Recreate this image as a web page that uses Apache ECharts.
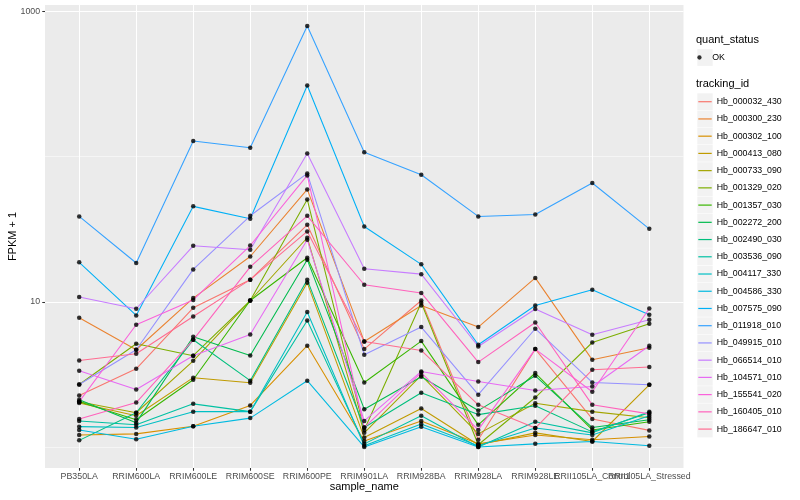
<!DOCTYPE html>
<html><head><meta charset="utf-8">
<script src="https://cdn.jsdelivr.net/npm/echarts@6/dist/echarts.min.js"></script>
<style>html,body{margin:0;padding:0;background:#fff}#c{width:800px;height:500px}</style>
</head><body><div id="c"></div><script>
const categories = ['PB350LA','RRIM600LA','RRIM600LE','RRIM600SE','RRIM600PE','RRIM901LA','RRIM928BA','RRIM928LA','RRIM928LE','RRII105LA_Control','RRII105LA_Stressed'];
const trackingIds = ['Hb_000032_430','Hb_000300_230','Hb_000302_100','Hb_000413_080','Hb_000733_090','Hb_001329_020','Hb_001357_030','Hb_002272_200','Hb_002490_030','Hb_003536_090','Hb_004117_330','Hb_004586_330','Hb_007575_090','Hb_011918_010','Hb_049915_010','Hb_066514_010','Hb_104571_010','Hb_155541_020','Hb_160405_010','Hb_186647_010'];
const palette = ['#F8766D','#EA8331','#D89000','#C09B00','#A3A500','#7CAE00','#39B600','#00BB4E','#00BF7D','#00C1A3','#00BFC4','#00BAE0','#00B0F6','#35A2FF','#9590FF','#C77CFF','#E76BF3','#FA62DB','#FF62BC','#FF6C91'];

// FPKM + 1 per sample, in category order
const hb_000032_430 = [2.26, 3.45, 9.09, 14.2, 33.9, 4.72, 10.2, 1.12, 4.72, 1.56, 1.30];
const hb_000300_230 = [7.76, 4.67, 10.6, 20.5, 59.4, 5.33, 9.43, 6.69, 14.6, 3.98, 4.82];
const hb_000302_100 = [1.21, 1.23, 1.39, 1.93, 4.98, 1.10, 1.51, 1.05, 1.21, 1.12, 1.18];
const hb_000413_080 = [2.01, 1.64, 3.00, 2.77, 13.5, 1.16, 1.84, 1.035, 1.25, 1.09, 2.68];
const hb_000733_090 = [2.05, 1.72, 3.92, 10.2, 27.6, 1.25, 3.11, 1.23, 2.00, 1.75, 1.59];
const hb_001329_020 = [2.69, 5.14, 4.25, 10.2, 50.7, 1.31, 9.84, 1.035, 2.19, 5.24, 7.05];
const hb_001357_030 = [2.05, 1.54, 2.90, 10.2, 20.1, 2.78, 5.36, 1.42, 3.23, 1.31, 1.49];
const hb_002272_200 = [2.11, 1.47, 5.74, 4.27, 19.5, 1.82, 3.04, 1.78, 3.09, 1.36, 1.54];
const hb_002490_030 = [1.11, 1.72, 5.47, 2.86, 14.2, 1.36, 2.36, 1.67, 1.92, 1.27, 1.72];
const hb_003536_090 = [1.51, 1.42, 1.98, 1.75, 7.43, 1.05, 1.64, 1.00, 1.49, 1.25, 1.75];
const hb_004117_330 = [1.38, 1.36, 1.75, 1.75, 8.49, 1.02, 1.44, 1.02, 1.35, 1.21, 1.64];
const hb_004586_330 = [1.31, 1.13, 1.39, 1.58, 2.86, 1.00, 1.38, 1.00, 1.05, 1.09, 1.02];
const hb_007575_090 = [18.7, 8.05, 45.4, 37.3, 309, 33.0, 18.1, 5.06, 9.43, 12.1, 8.14];
const hb_011918_010 = [38.7, 18.5, 128, 115, 793, 107, 75.0, 38.7, 39.9, 65.8, 31.8];
const hb_049915_010 = [2.69, 4.67, 16.7, 39.1, 76.6, 4.32, 6.69, 2.29, 6.52, 2.78, 2.68];
const hb_066514_010 = [10.8, 8.95, 24.3, 22.8, 105, 16.9, 15.5, 4.92, 8.91, 5.93, 7.52];
const hb_104571_010 = [3.35, 2.49, 4.25, 5.95, 26.7, 1.51, 3.31, 2.82, 2.45, 2.61, 4.98];
const hb_155541_020 = [2.05, 6.94, 10.3, 24.4, 74.2, 1.36, 3.25, 1.31, 4.72, 2.40, 8.99];
const hb_160405_010 = [1.56, 2.02, 5.47, 17.4, 39.1, 13.1, 11.5, 3.84, 7.20, 1.95, 1.69];
const hb_186647_010 = [3.94, 4.38, 7.92, 14.2, 30.5, 5.33, 4.62, 1.95, 1.35, 3.40, 3.55];

const yTickValues = [10, 1000];
const yMinorValues = [1, 100];
const xTickValues = categories.map((_, i) => i);
const xLabelsEven = xTickValues.filter(i => i % 2 === 0);
const xLabelsOdd = xTickValues.filter(i => i % 2 === 1);

const seriesValues = [hb_000032_430, hb_000300_230, hb_000302_100, hb_000413_080, hb_000733_090, hb_001329_020, hb_001357_030, hb_002272_200, hb_002490_030, hb_003536_090, hb_004117_330, hb_004586_330, hb_007575_090, hb_011918_010, hb_049915_010, hb_066514_010, hb_104571_010, hb_155541_020, hb_160405_010, hb_186647_010];

const FONT = '"Liberation Sans", Arial, Helvetica, sans-serif';
const chart = echarts.init(document.getElementById('c'), null, {renderer: 'canvas'});

const lineSeries = trackingIds.map((id, i) => ({
  name: id, type: 'line', silent: true, xAxisIndex: 0, yAxisIndex: 0,
  data: seriesValues[i].map((v, j) => [j, v]),
  showSymbol: false, symbol: 'none',
  lineStyle: {width: 1.07, color: palette[i]},
  itemStyle: {color: palette[i]},
  z: 3
}));
const pointSeries = {
  name: 'OK', type: 'scatter', silent: true, xAxisIndex: 0, yAxisIndex: 0,
  data: seriesValues.flatMap(vals => vals.map((v, j) => [j, v])),
  symbol: 'circle', symbolSize: 4.5,
  itemStyle: {color: '#000000'},
  z: 5
};

const keyRects = [];
for (let i = 0; i < trackingIds.length; i++) {
  keyRects.push({type: 'rect', z: 1, shape: {x: 697.3, y: 93.3 + i * 17.23, width: 15.4, height: 16.7}, style: {fill: '#F2F2F2'}});
}
keyRects.push({type: 'rect', z: 1, shape: {x: 697.3, y: 49.2, width: 15.4, height: 16.7}, style: {fill: '#F2F2F2'}});
keyRects.push({type: 'text', z: 1, style: {text: 'quant_status', x: 696, y: 40, fill: '#000', font: '11px ' + FONT, textVerticalAlign: 'middle', verticalAlign: 'middle'}});
keyRects.push({type: 'text', z: 1, style: {text: 'tracking_id', x: 696, y: 84.3, fill: '#000', font: '11px ' + FONT, textVerticalAlign: 'middle', verticalAlign: 'middle'}});

const labelStyle = {formatter: v => categories[Math.round(v)], color: '#4D4D4D', fontSize: 8.8, margin: 4, fontFamily: FONT, hideOverlap: false, showMinLabel: true, showMaxLabel: true};

const option = {
  animation: false,
  backgroundColor: '#ffffff',
  textStyle: {fontFamily: FONT},
  grid: {left: 45, right: 116.5, top: 5, bottom: 32, show: true, backgroundColor: '#EBEBEB', borderWidth: 0, containLabel: false, outerBoundsMode: 'none'},
  xAxis: [{
    type: 'value', min: -0.6, max: 10.6, position: 'bottom',
    name: 'sample_name', nameLocation: 'middle', nameGap: 13, nameMoveOverlap: false,
    nameTextStyle: {fontSize: 11, color: '#000', fontFamily: FONT},
    axisLine: {show: false, onZero: false},
    axisTick: {show: true, length: 2.74, lineStyle: {color: '#333333', width: 1.07}, customValues: xTickValues},
    axisLabel: Object.assign({customValues: xLabelsEven}, labelStyle),
    splitLine: {show: true, lineStyle: {color: '#FFFFFF', width: 1.07}}
  }, {
    type: 'value', min: -0.6, max: 10.6, position: 'bottom', offset: 0,
    axisLine: {show: false, onZero: false},
    axisTick: {show: false, customValues: xTickValues},
    axisLabel: Object.assign({customValues: xLabelsOdd}, labelStyle),
    splitLine: {show: false}
  }],
  yAxis: [{
    type: 'log', logBase: 10, min: 0.716, max: 1107,
    name: 'FPKM + 1', nameLocation: 'middle', nameGap: 27, nameRotate: 90, nameMoveOverlap: false,
    nameTextStyle: {fontSize: 11, color: '#000', fontFamily: FONT},
    axisLine: {show: false, onZero: false},
    axisTick: {show: true, length: 2.74, lineStyle: {color: '#333333', width: 1.07}, customValues: yTickValues},
    axisLabel: {customValues: yTickValues, formatter: v => String(Math.round(v)), color: '#4D4D4D', fontSize: 8.8, margin: 4.9, fontFamily: FONT, showMinLabel: true, showMaxLabel: true},
    splitLine: {show: true, lineStyle: {color: '#FFFFFF', width: 1.07}}
  }, {
    type: 'log', logBase: 10, min: 0.716, max: 1107, position: 'left',
    axisLine: {show: false, onZero: false},
    axisTick: {show: false, customValues: yMinorValues},
    axisLabel: {show: false, customValues: yMinorValues},
    splitLine: {show: true, lineStyle: {color: '#FFFFFF', width: 0.53}}
  }],
  legend: [{
    data: trackingIds.map((id, i) => ({name: id, icon: 'rect', itemStyle: {color: palette[i]}})),
    orient: 'vertical', left: 698.3, top: 93.1, padding: 0,
    itemWidth: 13.4, itemHeight: 1.2, itemGap: 0, selectedMode: false,
    textStyle: {fontSize: 8.8, color: '#000', lineHeight: 17.23, fontFamily: FONT}, z: 4
  }, {
    data: [{name: 'OK', icon: 'circle', itemStyle: {color: '#000000'}}],
    orient: 'vertical', left: 697.3, top: 48.9, padding: 0,
    itemWidth: 15.4, itemHeight: 4.3, itemGap: 0, selectedMode: false,
    textStyle: {fontSize: 8.8, color: '#000', lineHeight: 17.23, fontFamily: FONT}, z: 4
  }],
  graphic: keyRects,
  series: lineSeries.concat([pointSeries])
};
chart.setOption(option);
</script></body></html>
